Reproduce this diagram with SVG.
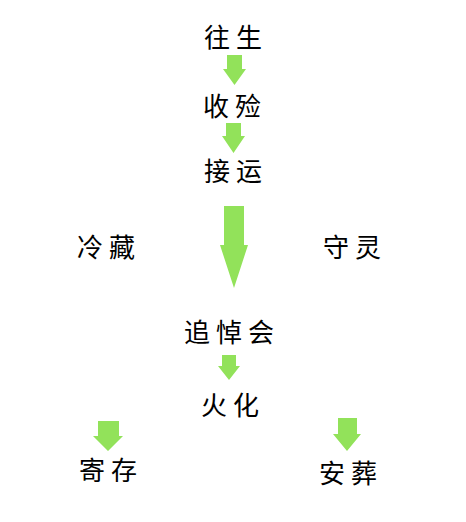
<svg xmlns="http://www.w3.org/2000/svg" width="466" height="522" viewBox="0 0 466 522">
<style>
.lbl{font-family:"Noto Sans CJK SC","Noto Sans CJK JP",sans-serif;font-size:26px;fill:#000;text-anchor:middle;letter-spacing:6px}
.arr{fill:#92e25a;stroke:none}
</style>
<rect width="466" height="522" fill="#fff"/>
<g id="connectors">
<polygon class="arr" points="227,55 242,55 242,69 246,69 234.5,85 223,69 227,69"/>
<polygon class="arr" points="226,123 241,123 241,136 245,136 233.5,153 222,136 226,136"/>
<polygon class="arr" points="224,206 244,206 244,245 248,245 234,288 220,245 224,245"/>
<polygon class="arr" points="222,355 236,355 236,366 240,366 229,380 218,366 222,366"/>
<polygon class="arr" points="98,421 119,421 119,436 123,436 108,451 93,436 98,436"/>
<polygon class="arr" points="338,418 357,418 357,434 361,434 347,451 333,434 338,434"/>
</g>
<g id="n-wangsheng"><text class="lbl" x="236" y="47">往生</text></g>
<g id="n-shoulian"><text class="lbl" x="235" y="116">收殓</text></g>
<g id="n-jieyun"><text class="lbl" x="236" y="181">接运</text></g>
<g id="n-lengcang"><text class="lbl" x="109" y="257">冷藏</text></g>
<g id="n-shouling"><text class="lbl" x="355" y="257">守灵</text></g>
<g id="n-zhuidaohui"><text class="lbl" x="232" y="342">追悼会</text></g>
<g id="n-huohua"><text class="lbl" x="233" y="415">火化</text></g>
<g id="n-jicun"><text class="lbl" x="111" y="480">寄存</text></g>
<g id="n-anzang"><text class="lbl" x="351" y="483">安葬</text></g>
</svg>
